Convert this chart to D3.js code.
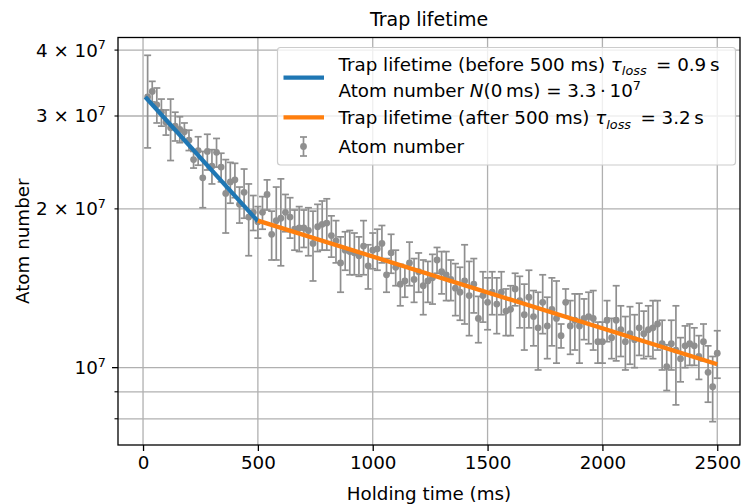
<!DOCTYPE html>
<html>
<head>
<meta charset="utf-8">
<script src="https://cdn.jsdelivr.net/npm/d3@7"></script>
<style>
  body { margin: 0; background: #fff; }
  svg { font-family: "DejaVu Sans", sans-serif; }
</style>
</head>
<body>
<svg id="chart" width="743" height="504"></svg>
<script>
// holding time (ms)
const holdTimes = [
  20, 40, 60, 80, 100, 120, 140, 160, 180, 200, 220, 240, 260, 280, 300, 320, 340, 360, 380, 400,
  420, 440, 460, 480, 500, 520, 540, 560, 580, 600, 620, 640, 660, 680, 700, 720, 740, 760, 780, 800,
  820, 840, 860, 880, 900, 920, 940, 960, 980, 1000, 1020, 1040, 1060, 1080, 1100, 1120, 1140, 1160, 1180, 1200,
  1220, 1240, 1260, 1280, 1300, 1320, 1340, 1360, 1380, 1400, 1420, 1440, 1460, 1480, 1500, 1520, 1540, 1560, 1580, 1600,
  1620, 1640, 1660, 1680, 1700, 1720, 1740, 1760, 1780, 1800, 1820, 1840, 1860, 1880, 1900, 1920, 1940, 1960, 1980, 2000,
  2020, 2040, 2060, 2080, 2100, 2120, 2140, 2160, 2180, 2200, 2220, 2240, 2260, 2280, 2300, 2320, 2340, 2360, 2380, 2400,
  2420, 2440, 2460, 2480, 2500
];
// atom number, in units of 10^6
const atomNumber = [
  32.6, 33.4, 31.5, 30.5, 29.2, 28.5, 28.7, 28.3, 28.0, 27.0, 24.8, 25.8, 22.9, 25.7, 24.1, 25.6, 24.0, 21.4, 22.5, 22.7,
  20.4, 21.5, 19.3, 19.7, 18.9, 19.7, 21.3, 17.9, 19.0, 19.2, 19.7, 19.3, 18.3, 18.4, 18.4, 18.2, 17.2, 18.5, 18.7, 18.8,
  17.8, 17.4, 15.8, 16.7, 16.6, 16.5, 16.3, 17.0, 15.6, 16.7, 16.8, 17.2, 15.0, 16.5, 15.5, 14.4, 14.6, 15.8, 14.7, 15.2,
  14.3, 14.6, 14.8, 16.0, 15.2, 15.0, 14.7, 14.15, 13.9, 14.6, 13.7, 14.4, 12.4, 13.7, 13.3, 13.9, 13.2, 13.9, 12.8, 12.9,
  14.1, 13.4, 12.6, 13.6, 12.5, 11.9, 13.3, 12.0, 12.9, 12.4, 11.5, 13.3, 12.0, 12.3, 12.0, 12.4, 12.5, 12.4, 11.2, 11.2,
  12.3, 11.4, 12.3, 11.8, 11.2, 11.6, 11.3, 11.9, 11.6, 11.8, 11.9, 12.1, 11.1, 10.05, 11.1, 10.8, 10.4, 11.0, 11.1, 11.0,
  10.5, 11.2, 9.8, 9.2, 10.65
];
const atomError = [
  6.5, 1.5, 2.4, 1.8, 1.6, 3.8, 1.8, 1.6, 1.1, 1.2, 0.9, 1.6, 2.8, 2.0, 1.8, 1.6, 1.5, 3.4, 2.0, 1.7,
  1.6, 2.3, 3.0, 1.5, 1.3, 1.4, 1.4, 1.9, 3.0, 3.6, 1.6, 1.7, 1.6, 1.8, 1.5, 1.9, 2.6, 1.9, 2.0, 2.1,
  1.6, 1.6, 1.9, 1.4, 1.6, 1.5, 1.4, 2.0, 1.5, 1.3, 1.5, 1.4, 1.1, 1.4, 1.2, 1.3, 1.0, 1.5, 1.4, 1.3,
  1.7, 1.3, 1.6, 0.9, 1.4, 1.6, 1.3, 1.6, 1.6, 2.5, 2.2, 1.7, 1.25, 1.5, 1.5, 1.3, 1.6, 1.3, 1.3, 1.4,
  1.0, 1.5, 1.8, 1.7, 1.5, 2.0, 1.7, 1.6, 1.9, 2.2, 0.6, 0.8, 1.4, 1.5, 1.8, 1.1, 1.4, 1.6, 1.0, 1.0,
  1.1, 1.0, 2.0, 1.3, 1.3, 1.45, 1.3, 1.35, 1.2, 1.3, 1.5, 1.3, 1.2, 1.0, 1.2, 2.3, 1.0, 1.0, 1.0, 0.9,
  1.0, 0.9, 1.2, 1.3, 1.1
];
// exponential fits (straight on a log axis)
const fitBeforeTime = [10, 500];
const fitBeforeAtoms = [32.6, 18.95];
const fitAfterTime = [500, 2500];
const fitAfterAtoms = [19.0, 10.15];

const xTicks = [0, 500, 1000, 1500, 2000, 2500];
const yMajorTicks = [1e7];
const yMinorTicks = [8e6, 9e6, 2e7, 3e7, 4e7];
const yLabelTicks = [2e7, 3e7, 4e7];
const yLabelMantissa = ['2', '3', '4'];

const gray = '#8f8f8f';
const blue = '#1f77b4';
const orange = '#ff7f0e';
const gridColor = '#b0b0b0';
const fs = 18.3;

const margin = { top: 37.5, right: 3, bottom: 59, left: 118 };
const width = 743 - margin.left - margin.right;
const height = 504 - margin.top - margin.bottom;

const svg = d3.select('#chart');
const g = svg.append('g').attr('transform', `translate(${margin.left},${margin.top})`);

const x = d3.scaleLinear().domain([-109, 2599]).range([0, width]);
const y = d3.scaleLog().domain([7.135e6, 4.226e7]).range([height, 0]);

// grid
g.append('g')
  .selectAll('line')
  .data(xTicks)
  .join('line')
  .attr('x1', d => x(d)).attr('x2', d => x(d))
  .attr('y1', 0).attr('y2', height)
  .attr('stroke', gridColor).attr('stroke-width', 1.3);

g.append('g')
  .selectAll('line')
  .data(yMajorTicks.concat(yMinorTicks))
  .join('line')
  .attr('x1', 0).attr('x2', width)
  .attr('y1', d => y(d)).attr('y2', d => y(d))
  .attr('stroke', gridColor).attr('stroke-width', 1.3);

// x axis
const xAxis = g.append('g')
  .attr('transform', `translate(0,${height})`)
  .call(d3.axisBottom(x).tickValues(xTicks).tickSize(6).tickPadding(5).tickFormat(d3.format('d')));
xAxis.select('.domain').remove();
xAxis.selectAll('line').attr('stroke', '#000').attr('stroke-width', 1.3);
xAxis.selectAll('text').attr('font-size', fs).attr('fill', '#000').attr('font-family', 'DejaVu Sans');

// y axis ticks
const yAxis = g.append('g');
yAxis.selectAll('line.major')
  .data(yMajorTicks)
  .join('line')
  .attr('class', 'major')
  .attr('x1', -6).attr('x2', 0)
  .attr('y1', d => y(d)).attr('y2', d => y(d))
  .attr('stroke', '#000').attr('stroke-width', 1.3);
yAxis.selectAll('line.minor')
  .data(yMinorTicks)
  .join('line')
  .attr('class', 'minor')
  .attr('x1', -3.5).attr('x2', 0)
  .attr('y1', d => y(d)).attr('y2', d => y(d))
  .attr('stroke', '#000').attr('stroke-width', 1.1);

// "10^7"
const majorLabel = yAxis.selectAll('text.major')
  .data(yMajorTicks)
  .join('text')
  .attr('class', 'major')
  .attr('x', -12)
  .attr('y', d => y(d) + 6.5)
  .attr('text-anchor', 'end')
  .attr('font-size', fs);
majorLabel.append('tspan').text('10');
majorLabel.append('tspan').attr('dy', -7.5).attr('font-size', fs * 0.7).text('7');

// "n × 10^7"
const minorLabel = yAxis.selectAll('text.minor')
  .data(yLabelTicks)
  .join('text')
  .attr('class', 'minor')
  .attr('x', -12)
  .attr('y', d => y(d) + 6.5)
  .attr('text-anchor', 'end')
  .attr('font-size', fs);
minorLabel.append('tspan').text((d, i) => yLabelMantissa[i] + ' \u00d7 10');
minorLabel.append('tspan').attr('dy', -7.5).attr('font-size', fs * 0.7).text('7');

// error bars
const bars = g.append('g').selectAll('g')
  .data(holdTimes.map((t, i) => ({ t, n: atomNumber[i] * 1e6, e: atomError[i] * 1e6 })))
  .join('g');
bars.append('line')
  .attr('x1', d => x(d.t)).attr('x2', d => x(d.t))
  .attr('y1', d => y(d.n - d.e)).attr('y2', d => y(d.n + d.e))
  .attr('stroke', gray).attr('stroke-width', 1.7);
bars.append('line')
  .attr('x1', d => x(d.t) - 3.5).attr('x2', d => x(d.t) + 3.5)
  .attr('y1', d => y(d.n - d.e)).attr('y2', d => y(d.n - d.e))
  .attr('stroke', gray).attr('stroke-width', 1.7);
bars.append('line')
  .attr('x1', d => x(d.t) - 3.5).attr('x2', d => x(d.t) + 3.5)
  .attr('y1', d => y(d.n + d.e)).attr('y2', d => y(d.n + d.e))
  .attr('stroke', gray).attr('stroke-width', 1.7);
bars.append('circle')
  .attr('cx', d => x(d.t)).attr('cy', d => y(d.n))
  .attr('r', 3.4)
  .attr('fill', gray);

// fit lines
const line = d3.line().x(d => x(d[0])).y(d => y(d[1] * 1e6));
g.append('path')
  .datum(fitBeforeTime.map((t, i) => [t, fitBeforeAtoms[i]]))
  .attr('d', line)
  .attr('fill', 'none').attr('stroke', blue).attr('stroke-width', 4.3);
g.append('path')
  .datum(fitAfterTime.map((t, i) => [t, fitAfterAtoms[i]]))
  .attr('d', line)
  .attr('fill', 'none').attr('stroke', orange).attr('stroke-width', 4.3);

// frame
g.append('rect')
  .attr('width', width).attr('height', height)
  .attr('fill', 'none').attr('stroke', '#000').attr('stroke-width', 1.3);

// titles
svg.append('text')
  .attr('x', margin.left + width / 2).attr('y', 26)
  .attr('text-anchor', 'middle').attr('font-size', 19)
  .text('Trap lifetime');
svg.append('text')
  .attr('x', margin.left + width / 2).attr('y', 499.5)
  .attr('text-anchor', 'middle').attr('font-size', fs)
  .text('Holding time (ms)');
svg.append('text')
  .attr('transform', `translate(28.5,${margin.top + height / 2}) rotate(-90)`)
  .attr('text-anchor', 'middle').attr('font-size', fs)
  .text('Atom number');

// legend
const lg = svg.append('g');
lg.append('rect')
  .attr('x', 277.5).attr('y', 47.5).attr('width', 458).attr('height', 117.5)
  .attr('rx', 3).attr('fill', '#fff').attr('fill-opacity', 0.8)
  .attr('stroke', '#cccccc').attr('stroke-width', 1.2);
lg.append('line').attr('x1', 283.5).attr('x2', 324).attr('y1', 77.7).attr('y2', 77.7)
  .attr('stroke', blue).attr('stroke-width', 4.3);
lg.append('line').attr('x1', 283.5).attr('x2', 324).attr('y1', 117.3).attr('y2', 117.3)
  .attr('stroke', orange).attr('stroke-width', 4.3);
lg.append('line').attr('x1', 303.5).attr('x2', 303.5).attr('y1', 137).attr('y2', 156)
  .attr('stroke', gray).attr('stroke-width', 1.7);
lg.append('line').attr('x1', 300).attr('x2', 307).attr('y1', 137).attr('y2', 137)
  .attr('stroke', gray).attr('stroke-width', 1.7);
lg.append('line').attr('x1', 300).attr('x2', 307).attr('y1', 156).attr('y2', 156)
  .attr('stroke', gray).attr('stroke-width', 1.7);
lg.append('circle').attr('cx', 303.5).attr('cy', 146.5).attr('r', 3.4).attr('fill', gray);

function richText(xPos, yPos, parts) {
  const t = lg.append('text').attr('x', xPos).attr('y', yPos).attr('font-size', fs)
    .attr('xml:space', 'preserve');
  let shift = 0;
  parts.forEach(p => {
    const ts = t.append('tspan').text(p.s);
    let target = 0;
    if (p.sub) target = 4.5;
    if (p.sup) target = -7.5;
    if (target !== shift) ts.attr('dy', target - shift);
    shift = target;
    if (p.sub || p.sup) ts.attr('font-size', fs * 0.7);
    if (p.it) ts.attr('font-style', 'italic');
  });
  return t;
}
richText(338.5, 70.5, [
  { s: 'Trap lifetime (before 500 ms) ' },
  { s: '\u03c4', it: true },
  { s: 'loss', it: true, sub: true },
  { s: '\u2009 = 0.9\u2009s' }
]);
richText(338.5, 97, [
  { s: 'Atom number ' },
  { s: 'N', it: true },
  { s: '(0\u2009ms) = 3.3\u2009\u00b7\u200910' },
  { s: '7', sup: true }
]);
richText(338.5, 124, [
  { s: 'Trap lifetime (after 500 ms) ' },
  { s: '\u03c4', it: true },
  { s: 'loss', it: true, sub: true },
  { s: '\u2009 = 3.2\u2009s' }
]);
richText(338.5, 152.5, [{ s: 'Atom number' }]);
</script>
</body>
</html>
